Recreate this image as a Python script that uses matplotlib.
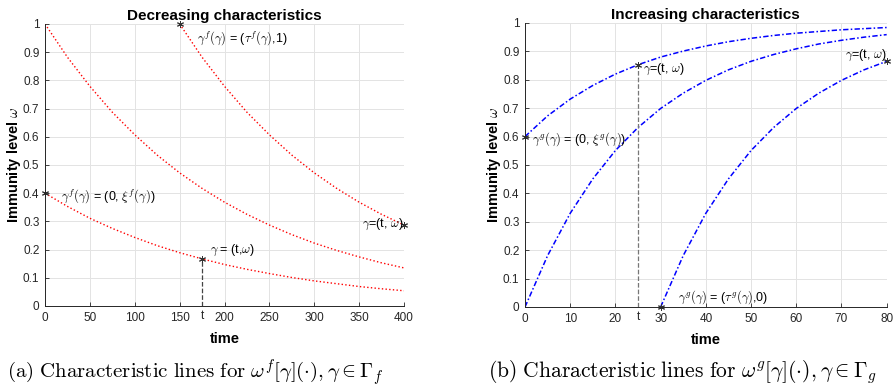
import numpy as np
import matplotlib
matplotlib.use("Agg")
import matplotlib.pyplot as plt

plt.rcParams['font.family'] = ['Liberation Sans', 'DejaVu Sans']
plt.rcParams['mathtext.fontset'] = 'cm'

# --- decreasing characteristics (left panel) ---
t_dec = [0, 25, 50, 75, 100, 125, 150, 175, 200, 225, 250, 275, 300, 325, 350, 375, 400]
w_dec_top = [1.0, 0.882, 0.779, 0.687, 0.607, 0.535, 0.472, 0.417, 0.368, 0.325, 0.287]   # starts at t=150
w_dec_mid = [1.0, 0.882, 0.779, 0.687, 0.607, 0.535, 0.472, 0.417, 0.368, 0.325, 0.287,
             0.253, 0.223, 0.197, 0.174, 0.153, 0.135]
w_dec_low = [0.40, 0.353, 0.311, 0.275, 0.243, 0.214, 0.189, 0.167, 0.147, 0.130, 0.115,
             0.101, 0.089, 0.079, 0.069, 0.061, 0.054]
dec_marks_t = [0, 150, 175, 400]
dec_marks_w = [0.40, 1.0, 0.167, 0.287]
dec_t_line = 175

# --- increasing characteristics (right panel) ---
t_inc = [0, 5, 10, 15, 20, 25, 30, 35, 40, 45, 50, 55, 60, 65, 70, 75, 80]
w_inc_top = [0.600, 0.673, 0.732, 0.780, 0.820, 0.853, 0.880, 0.901, 0.919, 0.934, 0.946,
             0.956, 0.964, 0.970, 0.976, 0.980, 0.984]
w_inc_mid = [0.0, 0.181, 0.330, 0.451, 0.551, 0.632, 0.699, 0.753, 0.798, 0.835, 0.865,
             0.889, 0.909, 0.926, 0.939, 0.950, 0.959]
w_inc_low = [0.0, 0.181, 0.330, 0.451, 0.551, 0.632, 0.699, 0.753, 0.798, 0.835, 0.865]  # starts at t=30
inc_marks_t = [0, 25, 30, 80]
inc_marks_w = [0.600, 0.853, 0.0, 0.865]
inc_t_line = 25

star = (6, 2, 0)
tick_col = '#262626'
dashdot = (0, (3.5, 1.5, 1, 1.5))


def style_axes(ax, xmax, xstep):
    ax.set_xlim(0, xmax)
    ax.set_ylim(0, 1)
    ax.set_xticks(np.arange(0, xmax + 1, xstep))
    ax.set_yticks(np.arange(0, 1.01, 0.1))
    ax.set_yticklabels(['0'] + [f'{v:.1f}' for v in np.arange(0.1, 0.95, 0.1)] + ['1'])
    ax.grid(True, color='#e3e3e3', linewidth=0.7)
    ax.set_axisbelow(True)
    for s in ['top', 'right']:
        ax.spines[s].set_visible(False)
    for s in ['left', 'bottom']:
        ax.spines[s].set_color('#262626')
        ax.spines[s].set_linewidth(0.7)
    ax.tick_params(direction='in', length=3, width=0.6, labelsize=8.5,
                   colors=tick_col, pad=4)
    ax.set_xlabel('time', fontsize=10.5, fontweight='bold', labelpad=6)
    ax.set_ylabel(r'Immunity level $\omega$', fontsize=10.5, fontweight='bold', labelpad=0)


fig = plt.figure(figsize=(8.95, 3.86), dpi=100)
ax1 = fig.add_axes([0.0503, 0.2073, 0.4011, 0.7306])
ax2 = fig.add_axes([0.5866, 0.2047, 0.4041, 0.7358])

# left panel
ax1.plot(t_dec[6:], w_dec_top, color='red', linestyle=':', linewidth=1.0)
ax1.plot(t_dec, w_dec_mid, color='red', linestyle=':', linewidth=1.0)
ax1.plot(t_dec, w_dec_low, color='red', linestyle=':', linewidth=1.0)
ax1.plot([dec_t_line, dec_t_line], [0, dec_marks_w[2]], color='#444444',
         linestyle='--', linewidth=0.9)
ax1.plot(dec_marks_t, dec_marks_w, linestyle='none', marker=star, markersize=5,
         color='#333333', markeredgewidth=0.7, clip_on=False)
style_axes(ax1, 400, 50)
ax1.set_title('Decreasing characteristics', fontsize=11, fontweight='bold', pad=3)
ax1.text(169, 0.951, r'$\gamma^f(\gamma)$ = ($\tau^f(\gamma)$,1)', fontsize=9, va='center')
ax1.text(18, 0.39, r'$\gamma^f(\gamma)$ = (0, $\xi^f(\gamma)$)', fontsize=9, va='center')
ax1.text(184, 0.196, r'$\gamma$ = (t,$\omega$)', fontsize=9, va='center')
ax1.text(400, 0.29, r'$\gamma$=(t, $\omega$)', fontsize=9, va='center', ha='right')
ax1.text(dec_t_line, -0.015, 't', fontsize=8.5, ha='center', va='top', color=tick_col)

# right panel
ax2.plot(t_inc, w_inc_top, color='blue', linestyle=dashdot, linewidth=1.1)
ax2.plot(t_inc, w_inc_mid, color='blue', linestyle=dashdot, linewidth=1.1)
ax2.plot(t_inc[6:], w_inc_low, color='blue', linestyle=dashdot, linewidth=1.1)
ax2.plot([inc_t_line, inc_t_line], [0, inc_marks_w[1]], color='#777777',
         linestyle='--', linewidth=0.9)
ax2.plot(inc_marks_t, inc_marks_w, linestyle='none', marker=star, markersize=5,
         color='#333333', markeredgewidth=0.7, clip_on=False)
style_axes(ax2, 80, 10)
ax2.set_title('Increasing characteristics', fontsize=11, fontweight='bold', pad=3)
ax2.text(26, 0.837, r'$\gamma$=(t, $\omega$)', fontsize=9, va='center')
ax2.text(1.5, 0.59, r'$\gamma^g(\gamma)$ = (0, $\xi^g(\gamma)$)', fontsize=9, va='center')
ax2.text(33.9, 0.035, r'$\gamma^g(\gamma)$ = ($\tau^g(\gamma)$,0)', fontsize=9, va='center')
ax2.text(80, 0.885, r'$\gamma$=(t, $\omega$)', fontsize=9, va='center', ha='right')
ax2.text(inc_t_line, -0.015, 't', fontsize=8.5, ha='center', va='top', color=tick_col)

# captions
fig.text(0.008, 0.036, r'$\mathrm{(a)\ Characteristic\ lines\ for\ }\omega^f[\gamma](\cdot), \gamma \in \Gamma_f$',
         fontsize=15, ha='left', va='center')
fig.text(0.545, 0.036, r'$\mathrm{(b)\ Characteristic\ lines\ for\ }\omega^g[\gamma](\cdot), \gamma \in \Gamma_g$',
         fontsize=15.5, ha='left', va='center')

fig.savefig('out.png', dpi=100)
